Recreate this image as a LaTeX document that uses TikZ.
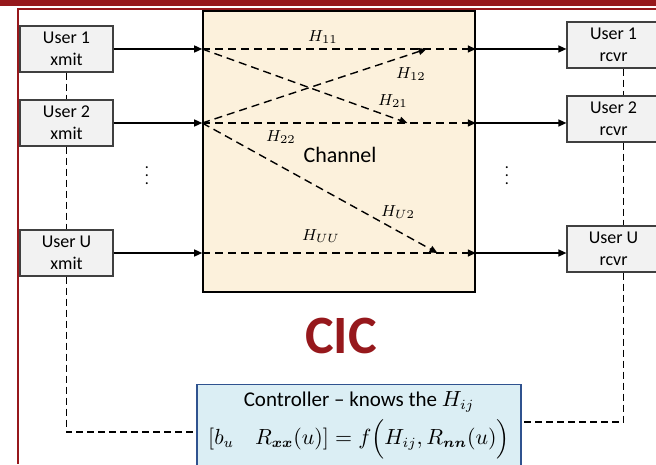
\documentclass[tikz,border=0pt]{standalone}
\usepackage{fontspec}
\setmainfont{Carlito}
\usepackage{amsmath, bm}
\usetikzlibrary{arrows.meta, positioning, calc}
\definecolor{CICred}{RGB}{150, 24, 28}
\definecolor{chanfill}{RGB}{252, 241, 220}
\definecolor{boxgray}{RGB}{242, 242, 242}
\definecolor{ctrlblue}{RGB}{219, 238, 244}
\definecolor{ctrledge}{RGB}{47, 82, 143}
\tikzset{>={Triangle[length=4pt, width=3.5pt]},
    userbox/.style={draw=black!75, fill=boxgray, line width=0.6pt, minimum width=46.5pt, minimum height=23pt, align=center, inner sep=0pt, font=\fontsize{9}{11}\selectfont},
    link/.style={->, line width=0.7pt},
    hpath/.style={->, dash pattern=on 4pt off 2.5pt, line width=0.7pt},
    ctrlpath/.style={dash pattern=on 3.5pt off 2pt, line width=0.6pt},
    hlabel/.style={font=\fontsize{8}{9}\selectfont, inner sep=0pt}}

\begin{document}
\begin{tikzpicture}[x=0.5pt, y=-0.5pt]
    \useasboundingbox (0,0) rectangle (656,464);
    \clip (0,0) rectangle (656,464);
    % slide frame
    \fill [CICred] (0,0) rectangle (656,6);
    \draw [CICred, line width=1pt] (656,9.5) -- (18,9.5) -- (18,464);

    \node [draw, fill=chanfill, line width=0.8pt, minimum width=136pt, minimum height=140.5pt] (channel) at (339,151.5) {};
    \node [font=\fontsize{11}{13}\selectfont] (chanlabel) at (340,155) {Channel};

    \node [userbox] (xmit1) at (66.5,49) {User 1\\xmit};
    \node [userbox] (xmit2) at (66.5,123) {User 2\\xmit};
    \node [userbox] (xmitU) at (66.5,253) {User U\\xmit};
    \node [userbox] (rcvr1) at (613.5,45) {User 1\\rcvr};
    \node [userbox] (rcvr2) at (613.5,119) {User 2\\rcvr};
    \node [userbox] (rcvrU) at (613.5,249) {User U\\rcvr};

    \coordinate (in1) at (xmit1.east -| channel.west);
    \coordinate (in2) at (xmit2.east -| channel.west);
    \coordinate (inU) at (xmitU.east -| channel.west);
    \coordinate (out1) at (xmit1.east -| channel.east);
    \coordinate (out2) at (xmit2.east -| channel.east);
    \coordinate (outU) at (xmitU.east -| channel.east);
    \coordinate (end12) at ($(in1)!0.82!(out1)$);
    \coordinate (end21) at ($(in2)!0.75!(out2)$);
    \coordinate (endU2) at ($(inU)!0.86!(outU)$);

    % transmitters into the channel
    \draw [link] (xmit1) -- (in1);
    \draw [link] (xmit2) -- (in2);
    \draw [link] (xmitU) -- (inU);
    \draw [hpath] (in1) -- (out1);
    \draw [hpath] (in2) -- (out2);
    \draw [hpath] (inU) -- (outU);
    \draw [hpath] (in1) -- (end21);
    \draw [hpath] (in2) -- (end12);
    \draw [hpath] (in2) -- (endU2);
    \draw [link] (out1) -- (out1 -| rcvr1.west);
    \draw [link] (out2) -- (out2 -| rcvr2.west);
    \draw [link] (outU) -- (outU -| rcvrU.west);

    \node [hlabel] (h11) at (323,37) {$H_{11}$};
    \node [hlabel] (h12) at (411,74) {$H_{12}$};
    \node [hlabel] (h21) at (393,101) {$H_{21}$};
    \node [hlabel] (h22) at (281,137) {$H_{22}$};
    \node [hlabel] (hU2) at (398,212) {$H_{U2}$};
    \node [hlabel] (hUU) at (321,236) {$H_{UU}$};

    \node [font=\fontsize{8}{9}\selectfont] (dotsL) at (147,170) {$\vdots$};
    \node [font=\fontsize{8}{9}\selectfont] (dotsR) at (507,170) {$\vdots$};

    \node [font=\fontsize{27}{30}\selectfont\bfseries, text=CICred] (cic) at (341,336) {CIC};

    \node [draw=ctrledge, fill=ctrlblue, line width=0.6pt, minimum width=162pt, minimum height=40pt, align=center, font=\fontsize{10.5}{19}\selectfont] (ctrl) at (359,425) {Controller -- knows the $H_{ij}$\\$[b_u \quad R_{\bm{xx}}(u)] = f\Bigl(H_{ij}, R_{\bm{nn}}(u)\Bigr)$};

    % control links
    \draw [ctrlpath] (xmit1) -- (xmit2);
    \draw [ctrlpath] (xmit2) -- (xmitU);
    \draw [ctrlpath] (xmitU) |- ([yshift=-3.5pt]ctrl.west);
    \draw [ctrlpath] ([xshift=5pt]rcvr1.south) -- ([xshift=5pt]rcvr2.north);
    \draw [ctrlpath] ([xshift=5pt]rcvr2.south) -- ([xshift=5pt]rcvrU.north);
    \draw [ctrlpath] ([xshift=5pt]rcvrU.south) |- ([yshift=1.5pt]ctrl.east);
\end{tikzpicture}
\end{document}
